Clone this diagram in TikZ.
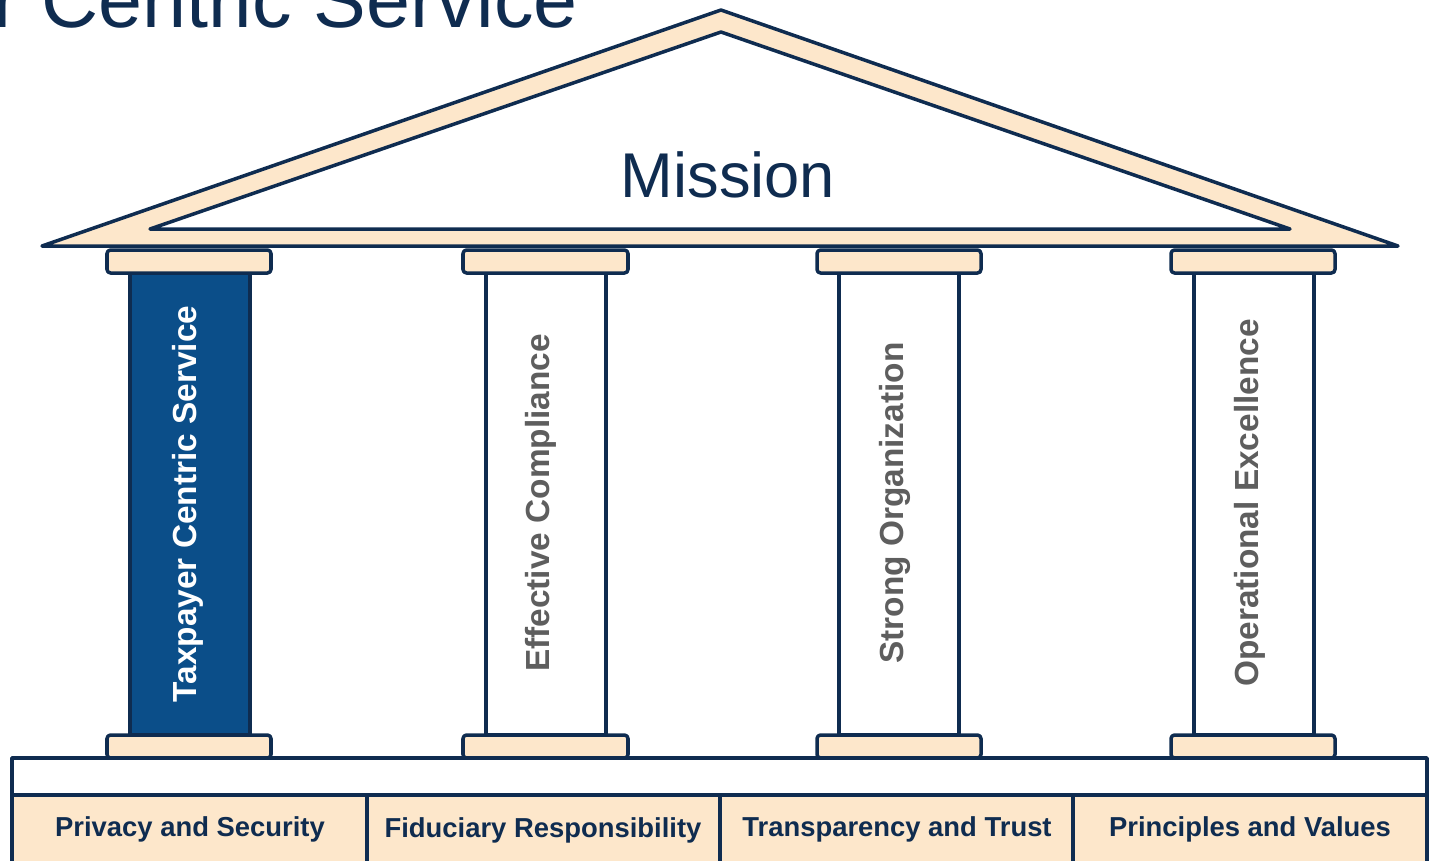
\documentclass[tikz,border=0pt]{standalone}
\usepackage{fontspec}
\setmainfont{Liberation Sans}
\usetikzlibrary{positioning}
\definecolor{navy}{HTML}{0F2C50}
\definecolor{pillarblue}{HTML}{0B4E89}
\definecolor{sand}{HTML}{FDE7CB}
\definecolor{greytext}{HTML}{5E5E5E}
\tikzset{
  outline/.style={draw=navy,line width=2pt,line join=round},
  slab/.style={outline,fill=sand,rounded corners=2pt},
  shaft/.style={outline,fill=white},
  pillartext/.style={rotate=90,font=\bfseries\fontsize{19}{20}\selectfont,text=greytext},
  basetext/.style={font=\bfseries\fontsize{15.6}{17}\selectfont,text=navy}
}
\begin{document}
\begin{tikzpicture}[x=0.02cm,y=-0.02cm]
\useasboundingbox (0,0) rectangle (1431,860);
% title, cut at the top
\node[anchor=base east,inner sep=0pt,text=navy,font=\fontsize{45}{50}\selectfont] (title) at (578,27) {r Centric Service};
% roof
\draw[outline,fill=sand] (42,246) -- (721,10) -- (1398,246) -- cycle;
\draw[outline,fill=white] (150,229) -- (721,32) -- (1290,229) -- cycle;
\node[text=navy,font=\fontsize{36}{40}\selectfont] (mission) at (728,175) {Mission};
% shafts
\draw[shaft,fill=pillarblue] (130,273) rectangle (250,735);
\draw[shaft] (486,273) rectangle (606,735);
\draw[shaft] (839,273) rectangle (959,735);
\draw[shaft] (1194,273) rectangle (1314,735);
% capitals and bases
\draw[slab] (107,250) rectangle (271,273);
\draw[slab] (463,250) rectangle (628,273);
\draw[slab] (817,250) rectangle (981,273);
\draw[slab] (1171,250) rectangle (1335,273);
\draw[slab] (107,735) rectangle (271,758);
\draw[slab] (463,735) rectangle (628,758);
\draw[slab] (817,735) rectangle (981,758);
\draw[slab] (1171,735) rectangle (1335,758);
% pillar labels
\node[pillartext,text=white] (p1) at (188,504) {Taxpayer Centric Service};
\node[pillartext] (p2) at (541,503) {Effective Compliance};
\node[pillartext] (p3) at (895,503) {Strong Organization};
\node[pillartext] (p4) at (1250,503) {Operational Excellence};
% plinth
\draw[outline,fill=white] (12,758) rectangle (1427,795);
\draw[outline,fill=sand] (12,795) rectangle (1427,880);
\draw[outline] (367,795) -- (367,880);
\draw[outline] (720,795) -- (720,880);
\draw[outline] (1073,795) -- (1073,880);
\node[basetext] (b1) at (190,829) {Privacy and Security};
\node[basetext] (b2) at (543,830) {Fiduciary Responsibility};
\node[basetext] (b3) at (897,829) {Transparency and Trust};
\node[basetext] (b4) at (1250,829) {Principles and Values};
\end{tikzpicture}
\end{document}
